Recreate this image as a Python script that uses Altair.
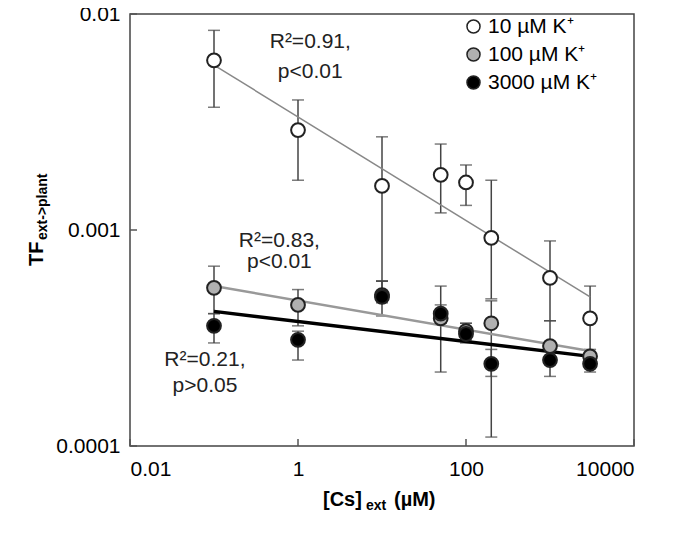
import altair as alt
import pandas as pd

conc = [0.1, 1, 10, 50, 100, 200, 1000, 3000]
series = ["10 µM K⁺", "100 µM K⁺", "3000 µM K⁺"]
tf10 = [0.0061, 0.0029, 0.0016, 0.0018, 0.00166, 0.00092, 0.0006, 0.00039]
lo10 = [0.0037, 0.0017, 0.00058, 0.0012, 0.0013, 0.00048, 0.00038, 0.00026]
hi10 = [0.0084, 0.0040, 0.0027, 0.0025, 0.0020, 0.0017, 0.00089, 0.00055]
tf100 = [0.00054, 0.00045, 0.00050, 0.00039, 0.00034, 0.00037, 0.00029, 0.00026]
lo100 = [0.00041, 0.00036, 0.00040, 0.00022, 0.00031, 0.00011, 0.00025, 0.00024]
hi100 = [0.00068, 0.00053, 0.00058, 0.00055, 0.00037, 0.00047, 0.00038, 0.00028]
tf3000 = [0.00036, 0.00031, 0.00049, 0.00041, 0.00033, 0.00024, 0.00025, 0.00024]
lo3000 = [0.00030, 0.00025, 0.00046, 0.00037, 0.00030, 0.00021, 0.00021, 0.00022]
hi3000 = [0.00041, 0.00034, 0.00058, 0.00045, 0.00037, 0.00028, 0.00028, 0.00026]
fit_x = [0.1, 3000]
fit10 = [0.0058, 0.00049]
fit100 = [0.00055, 0.000275]
fit3000 = [0.00042, 0.00026]
ann_text = ["R²=0.91,", "p<0.01", "R²=0.83,", "p<0.01", "R²=0.21,", "p>0.05"]
ann_x = [1.4, 1.4, 0.6, 0.6, 0.078, 0.078]
ann_y = [0.0074, 0.0054, 0.00089, 0.00071, 0.00025, 0.00019]
xticks = [0.01, 1, 100, 10000]
yticks = [0.0001, 0.001, 0.01]

rows = []
for s, v, lo, hi in zip(series, [tf10, tf100, tf3000], [lo10, lo100, lo3000], [hi10, hi100, hi3000]):
    for c, a, b, d in zip(conc, v, lo, hi):
        rows.append(dict(series=s, x=c, y=a, lo=b, hi=d))
df = pd.DataFrame(rows)
ann = pd.DataFrame(dict(t=ann_text, x=ann_x, y=ann_y))

X = alt.Scale(type="log", domain=[0.01, 10000])
Y = alt.Scale(type="log", domain=[0.0001, 0.01])
xax = alt.Axis(values=xticks, format="~g", title=None, labelFontSize=21,
               labelColor="black", ticks=False, domain=False, grid=False, labelPadding=12)
yax = alt.Axis(values=yticks, format="~g", title=None, labelFontSize=21,
               labelColor="black", ticks=False, domain=False, grid=False, labelPadding=10)
xe = alt.X("x:Q", scale=X, axis=xax)
ye = alt.Y("y:Q", scale=Y, axis=yax)

base = alt.Chart(df)
bars = base.mark_rule(color="#444", strokeWidth=1.5).encode(xe, alt.Y("lo:Q", scale=Y, axis=yax), y2="hi:Q")
capl = base.mark_tick(color="#444", thickness=1.5, size=12, orient="horizontal").encode(xe, alt.Y("lo:Q", scale=Y, axis=yax))
caph = base.mark_tick(color="#444", thickness=1.5, size=12, orient="horizontal").encode(xe, alt.Y("hi:Q", scale=Y, axis=yax))

def fitline(vals, color, w):
    return alt.Chart(pd.DataFrame(dict(x=fit_x, y=vals))).mark_line(color=color, strokeWidth=w).encode(xe, ye)
lines = fitline(fit10, "#888888", 1.5) + fitline(fit100, "#999999", 2.5) + fitline(fit3000, "#000000", 3.5)

pts = base.mark_point(filled=True, size=190, stroke="#222", strokeWidth=2, opacity=1).encode(
    xe, ye,
    fill=alt.Fill("series:N", scale=alt.Scale(domain=series, range=["white", "#b0b0b0", "black"]),
                  legend=alt.Legend(title=None, orient="none", legendX=333, legendY=2, labelFontSize=21,
                                    symbolSize=170, symbolStrokeWidth=1.5, symbolStrokeColor="#222",
                                    symbolType="circle", symbolOpacity=1,
                                    rowPadding=6, labelColor="black", labelOffset=4)))
texts = alt.Chart(ann).mark_text(fontSize=21, color="#222", font="Liberation Sans").encode(
    alt.X("x:Q", scale=X, axis=xax), alt.Y("y:Q", scale=Y, axis=yax), text="t:N")

tx = alt.Chart(pd.DataFrame(dict(x=xticks))).mark_rule(color="#555", strokeWidth=1.5).encode(
    alt.X("x:Q", scale=X, axis=xax), y=alt.value(432), y2=alt.value(425))
ty = alt.Chart(pd.DataFrame(dict(y=yticks))).mark_rule(color="#555", strokeWidth=1.5).encode(
    alt.Y("y:Q", scale=Y, axis=yax), x=alt.value(0), x2=alt.value(7))

ttl = pd.DataFrame(dict(k=[0]))
def t(txt, x, y, size, angle=0, align="left"):
    return alt.Chart(ttl).mark_text(text=txt, fontSize=size, fontWeight="bold", angle=angle, align=align,
                                     baseline="alphabetic", color="black", font="Liberation Sans").encode(
        x=alt.value(x), y=alt.value(y))
titles = (t("[Cs]", 193, 492, 20) + t("ext", 236, 496, 14) + t("(µM)", 264, 492, 20)
          + t("TF", -87, 252, 20, angle=270) + t("ext->plant", -83, 226, 14, angle=270))

chart = alt.layer(bars, capl, caph, lines, pts, texts, tx, ty, titles).properties(
    width=504, height=432, padding={"left": 122, "top": 6, "right": 20, "bottom": 80},
    autosize=alt.AutoSizeParams(type="none")
).configure(font="Liberation Sans").configure_view(stroke="#444", strokeWidth=1.5)
chart.save("out.html", embed_options={"renderer": "svg", "actions": False})
